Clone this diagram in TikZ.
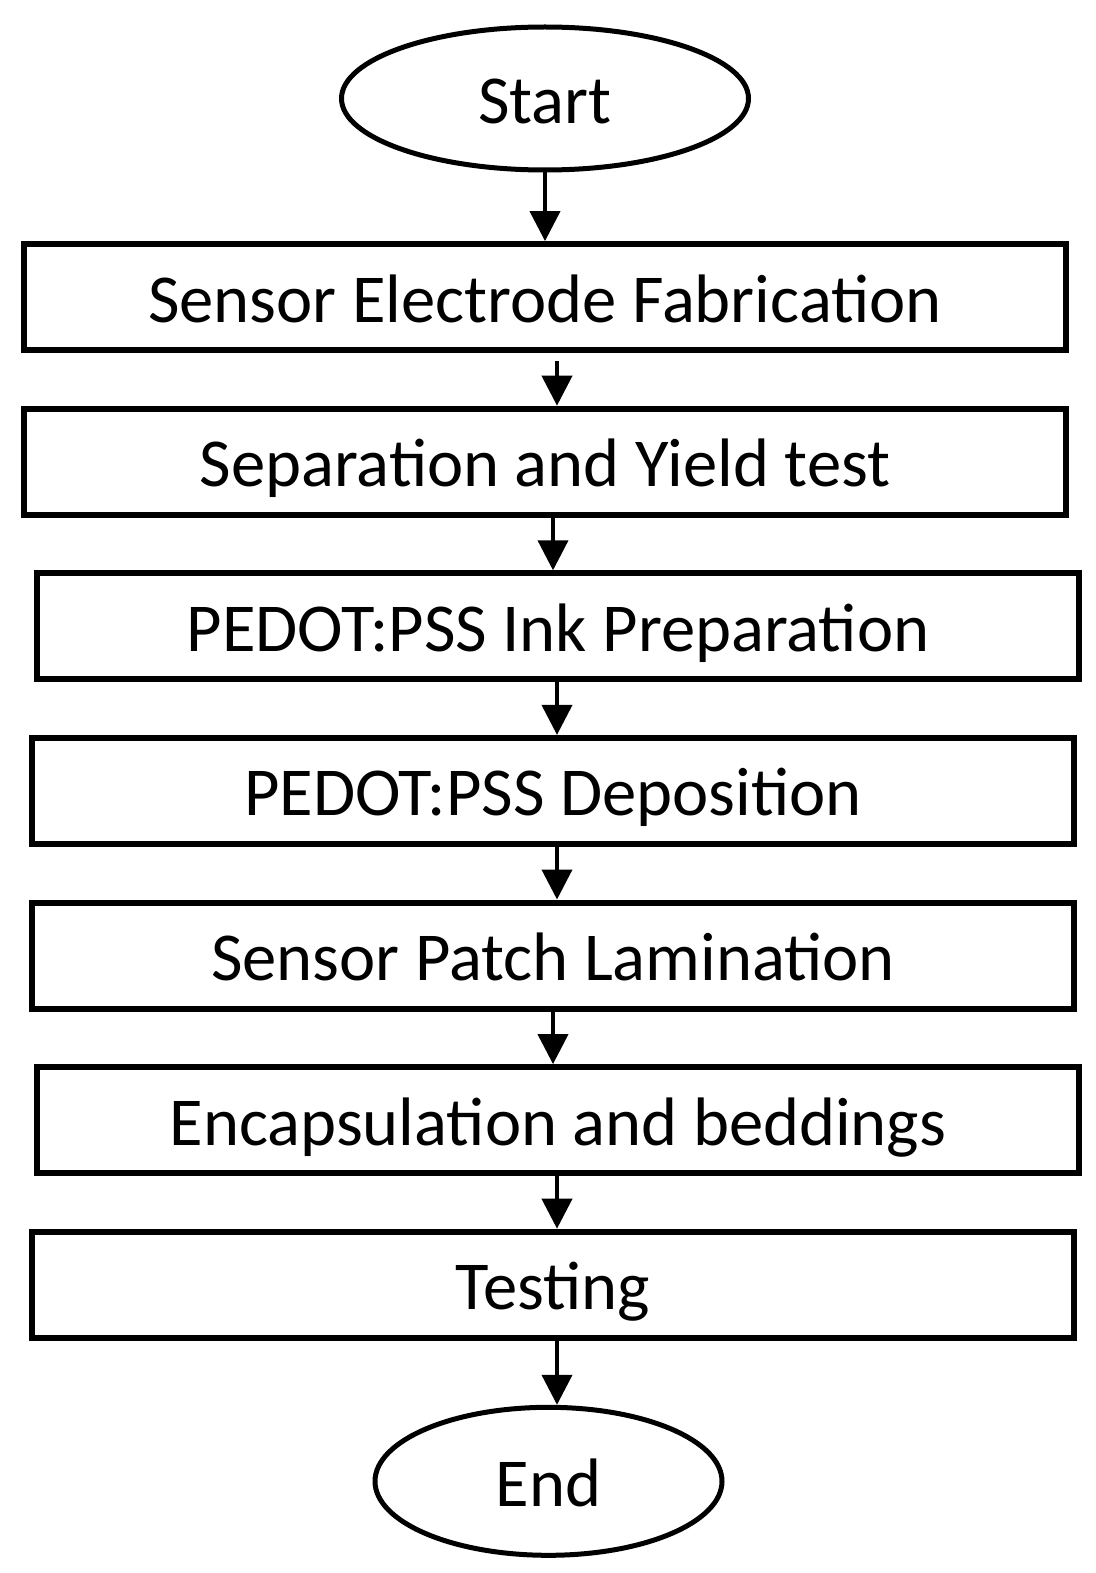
\documentclass[tikz,border=0pt]{standalone}
\usepackage{fontspec}
\setmainfont{Carlito}
\usepackage{tikz}
\usetikzlibrary{shapes, shapes.geometric, arrows, positioning, arrows.meta}

\tikzset{
  stepbox/.style={rectangle, draw, line width=3pt, minimum width=521pt, minimum height=53pt, inner sep=0pt, text height=25pt, text depth=0pt},
  term/.style={ellipse, draw, line width=2.5pt, inner sep=0pt, text height=25pt, text depth=0pt},
  flow/.style={-{Triangle[width=15pt, length=15pt]}, line width=2pt}
}

\begin{document}
\begin{tikzpicture}[node distance=82.3pt, font=\fontsize{34.3}{41}\selectfont]
  \useasboundingbox (0,0) rectangle (548pt,-786.5pt);

  \node[term, minimum width=203.5pt, minimum height=71.5pt] (start) at (272.5pt,-49.25pt) {Start};
  \node[stepbox, below of=start, yshift=-17pt] (fab) {Sensor Electrode Fabrication};
  \node[stepbox, below of=fab] (sep) {Separation and Yield test};
  \node[stepbox, below of=sep, xshift=6.5pt] (ink) {PEDOT:PSS Ink Preparation};
  \node[stepbox, below of=ink, xshift=-2.5pt] (dep) {PEDOT:PSS Deposition};
  \node[stepbox, below of=dep] (lam) {Sensor Patch Lamination};
  \node[stepbox, below of=lam, xshift=2.5pt] (enc) {Encapsulation and beddings};
  \node[stepbox, below of=enc, xshift=-2.5pt] (test) {Testing};
  \node[term, below of=test, yshift=-16pt, xshift=-2.25pt, minimum width=173.5pt, minimum height=74pt] (end) {End};

  % arrows between steps
  \draw[flow] (start.south) -- (fab.north);
  \draw[flow, shorten <=4pt] ([xshift=6pt]fab.south) -- ([xshift=6pt]fab.south |- sep.north);
  \draw[flow] ([xshift=4pt]sep.south) -- ([xshift=4pt]sep.south |- ink.north);
  \draw[flow] ([xshift=-0.5pt]ink.south) -- ([xshift=-0.5pt]ink.south |- dep.north);
  \draw[flow] ([xshift=2pt]dep.south) -- ([xshift=2pt]dep.south |- lam.north);
  \draw[flow] (lam.south) -- (lam.south |- enc.north);
  \draw[flow] ([xshift=-0.5pt]enc.south) -- ([xshift=-0.5pt]enc.south |- test.north);
  \draw[flow] ([xshift=2pt]test.south) -- ([xshift=2pt]test.south |- end.north);
\end{tikzpicture}
\end{document}
